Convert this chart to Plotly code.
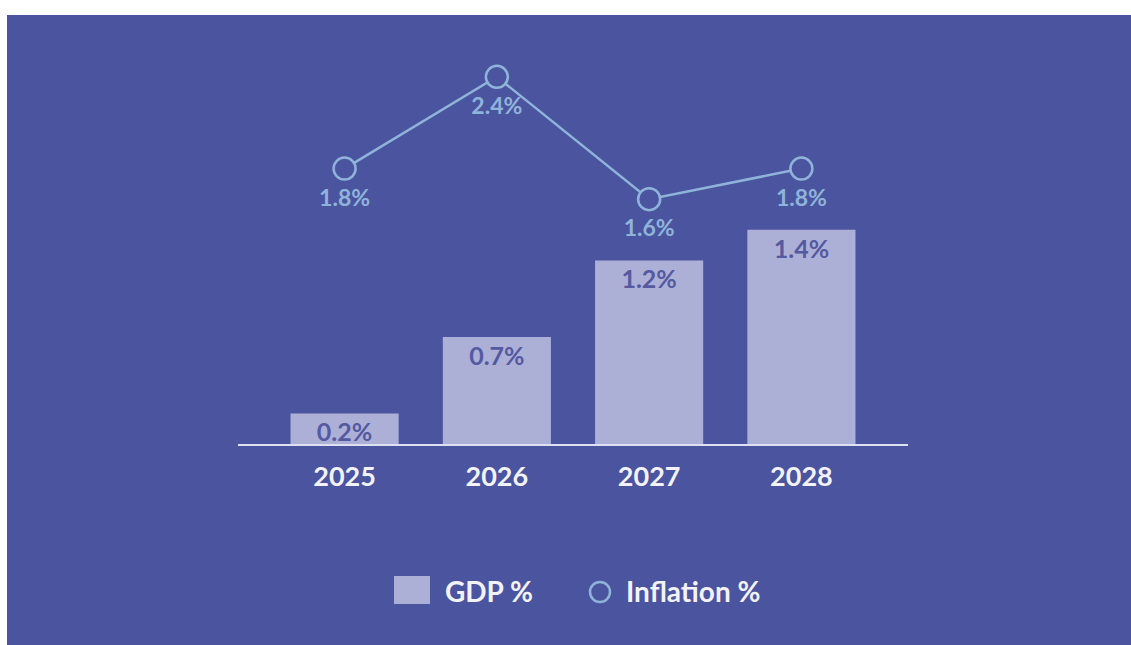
import plotly.graph_objects as go

years = ["2025", "2026", "2027", "2028"]
gdp = [0.2, 0.7, 1.2, 1.4]
inflation = [1.8, 2.4, 1.6, 1.8]
gdp_labels = ["0.2%", "0.7%", "1.2%", "1.4%"]
infl_labels = ["1.8%", "2.4%", "1.6%", "1.8%"]

BG = "#4B549F"
BAR = "#ADB0D6"
LINE = "#8FB4DA"
FONT = "Lato"

W, H = 1131, 645
L, R = 238, 908
T, B = 30, 444

def px_x(p):
    return (p - L) / (R - L)

def px_y(p):
    return (B - p) / (B - T)

fig = go.Figure()

fig.add_trace(go.Bar(
    x=years, y=gdp, name="GDP %",
    marker=dict(color=BAR, line=dict(width=0)),
    width=0.71,
    text=gdp_labels, textposition="inside", insidetextanchor="end",
    textangle=0,
    textfont=dict(family=FONT, size=25, color="#5459A2", weight="bold"),
    showlegend=False, hoverinfo="skip",
))

fig.add_trace(go.Scatter(
    x=years, y=inflation, name="Inflation %",
    mode="lines+markers",
    line=dict(color=LINE, width=2.5),
    marker=dict(size=22, color=BG, line=dict(color=LINE, width=2.5)),
    cliponaxis=False, showlegend=False, hoverinfo="skip",
))

# labels for inflation (invisible larger marker to push text below the circle)
fig.add_trace(go.Scatter(
    x=years, y=inflation, mode="markers+text",
    marker=dict(size=30, color="rgba(0,0,0,0)", line=dict(width=0)),
    text=infl_labels, textposition="bottom center",
    textfont=dict(family=FONT, size=23, color=LINE, weight="bold"),
    cliponaxis=False, showlegend=False, hoverinfo="skip",
))

shapes = [
    # white border: top and left strips
    dict(type="rect", xref="paper", yref="paper", layer="above",
         x0=px_x(-20), x1=px_x(W + 40), y0=px_y(15), y1=px_y(-20),
         fillcolor="white", line=dict(width=0)),
    dict(type="rect", xref="paper", yref="paper", layer="above",
         x0=px_x(-20), x1=px_x(7), y0=px_y(H + 20), y1=px_y(-20),
         fillcolor="white", line=dict(width=0)),
    # legend: GDP square
    dict(type="rect", xref="paper", yref="paper",
         x0=px_x(394), x1=px_x(430), y0=px_y(604), y1=px_y(576),
         fillcolor=BAR, line=dict(width=0)),
    # legend: inflation circle
    dict(type="circle", xref="paper", yref="paper",
         x0=px_x(590), x1=px_x(610), y0=px_y(602), y1=px_y(582),
         fillcolor=BG, line=dict(color=LINE, width=2.5)),
]

annotations = [
    dict(text="GDP %", xref="paper", yref="paper", x=px_x(443), y=px_y(591),
         xanchor="left", yanchor="middle", showarrow=False,
         font=dict(family=FONT, size=28, color="#F2F2F8", weight="bold")),
    dict(text="Inflation %", xref="paper", yref="paper", x=px_x(624), y=px_y(591),
         xanchor="left", yanchor="middle", showarrow=False,
         font=dict(family=FONT, size=28, color="#F2F2F8", weight="bold")),
]

fig.update_layout(
    width=W, height=H,
    margin=dict(l=L, r=W - R, t=T, b=H - B, pad=0),
    paper_bgcolor=BG,
    plot_bgcolor="rgba(0,0,0,0)",
    shapes=shapes, annotations=annotations,
    showlegend=False,
    hovermode=False,
    uniformtext=dict(minsize=25, mode="show"),
    xaxis=dict(
        type="category", range=[-0.7, 3.7],
        showgrid=False, zeroline=False,
        showline=True, linecolor="#DDE0F0", linewidth=2,
        ticks="", ticklabelstandoff=8, fixedrange=True,
        tickfont=dict(family=FONT, size=27, color="#F2F2F8", weight="bold"),
    ),
    yaxis=dict(
        range=[0, (B - T) / 153.0], fixedrange=True,
        showgrid=False, zeroline=False, showline=False,
        showticklabels=False, ticks="",
    ),
)

fig.write_html(
    "out.html",
    config={"displayModeBar": False, "staticPlot": True},
    post_script="document.body.style.margin='0';document.body.style.overflow='hidden';",
)
